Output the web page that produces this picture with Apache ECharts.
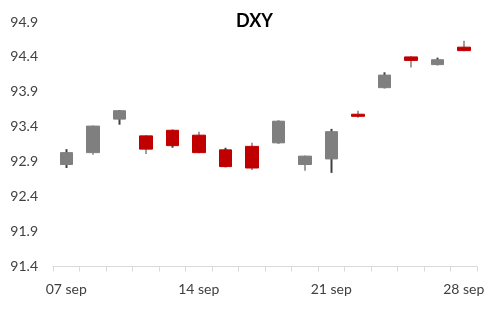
<!DOCTYPE html>
<html>
<head>
<meta charset="utf-8">
<script src="https://cdn.jsdelivr.net/npm/echarts@6/dist/echarts.min.js"></script>
<style>
	html, body { margin: 0; padding: 0; background: #fff; }
	#chart { width: 503px; height: 310px; }
</style>
</head>
<body>
<div id="chart"></div>
<script>
const dates = ['07 sep', '08 sep', '09 sep', '10 sep', '11 sep', '14 sep', '15 sep', '16 sep',
	'17 sep', '18 sep', '21 sep', '22 sep', '23 sep', '24 sep', '25 sep', '28 sep'];
const open  = [92.86, 93.03, 93.51, 93.27, 93.35, 93.28, 93.07, 93.12, 93.17, 92.86, 92.94, 93.58, 93.96, 94.40, 94.29, 94.54];
const close = [93.03, 93.41, 93.63, 93.08, 93.13, 93.03, 92.83, 92.81, 93.48, 92.98, 93.33, 93.55, 94.14, 94.35, 94.36, 94.49];
const low   = [92.81, 93.00, 93.43, 93.01, 93.10, 93.02, 92.82, 92.78, 93.16, 92.77, 92.74, 93.53, 93.95, 94.25, 94.28, 94.48];
const high  = [93.08, 93.42, 93.64, 93.28, 93.36, 93.33, 93.10, 93.17, 93.49, 92.99, 93.37, 93.63, 94.18, 94.41, 94.39, 94.63];
const yTicks = [91.4, 91.9, 92.4, 92.9, 93.4, 93.9, 94.4, 94.9];

const font = 'Lato, "Open Sans", sans-serif';

// wicks: a thin candle from low to high
const wickData = dates.map((d, i) => [low[i], high[i], low[i], high[i]]);
// bodies: no shadows, drawn on top of the wicks
const bodyData = dates.map((d, i) => [
	open[i], close[i],
	Math.min(open[i], close[i]), Math.max(open[i], close[i])
]);

const chart = echarts.init(document.getElementById('chart'));
chart.setOption({
	animation: false,
	title: {
		text: 'DXY',
		left: 236,
		top: 12,
		padding: 0,
		textStyle: { fontFamily: font, fontSize: 18, fontWeight: 'bold', color: '#000' }
	},
	grid: { left: 53, right: 26, top: 22, bottom: 43.5 },
	xAxis: {
		type: 'category',
		data: dates,
		boundaryGap: true,
		axisLine: { lineStyle: { color: '#d9d9d9', width: 1 } },
		axisTick: { show: true, interval: 0, length: 5, lineStyle: { color: '#d9d9d9' } },
		axisLabel: {
			interval: 4,
			margin: 16,
			fontFamily: font,
			fontSize: 14,
			color: '#404040'
		}
	},
	yAxis: {
		type: 'value',
		min: yTicks[0],
		max: yTicks[yTicks.length - 1],
		interval: 0.5,
		axisLine: { show: false },
		axisTick: { show: false },
		splitLine: { show: false },
		axisLabel: {
			margin: 15,
			fontFamily: font,
			fontSize: 14,
			color: '#404040',
			formatter: (v) => v.toFixed(1)
		}
	},
	series: [
		{
			type: 'candlestick',
			data: wickData,
			barWidth: 2,
			z: 2,
			itemStyle: {
				color: '#404040', color0: '#404040',
				borderColor: '#404040', borderColor0: '#404040', borderWidth: 0
			}
		},
		{
			type: 'candlestick',
			data: bodyData,
			barWidth: 13,
			z: 3,
			itemStyle: {
				color: '#7f7f7f', color0: '#c00000',
				borderColor: '#7f7f7f', borderColor0: '#c00000', borderWidth: 1
			}
		}
	]
});
</script>
</body>
</html>
